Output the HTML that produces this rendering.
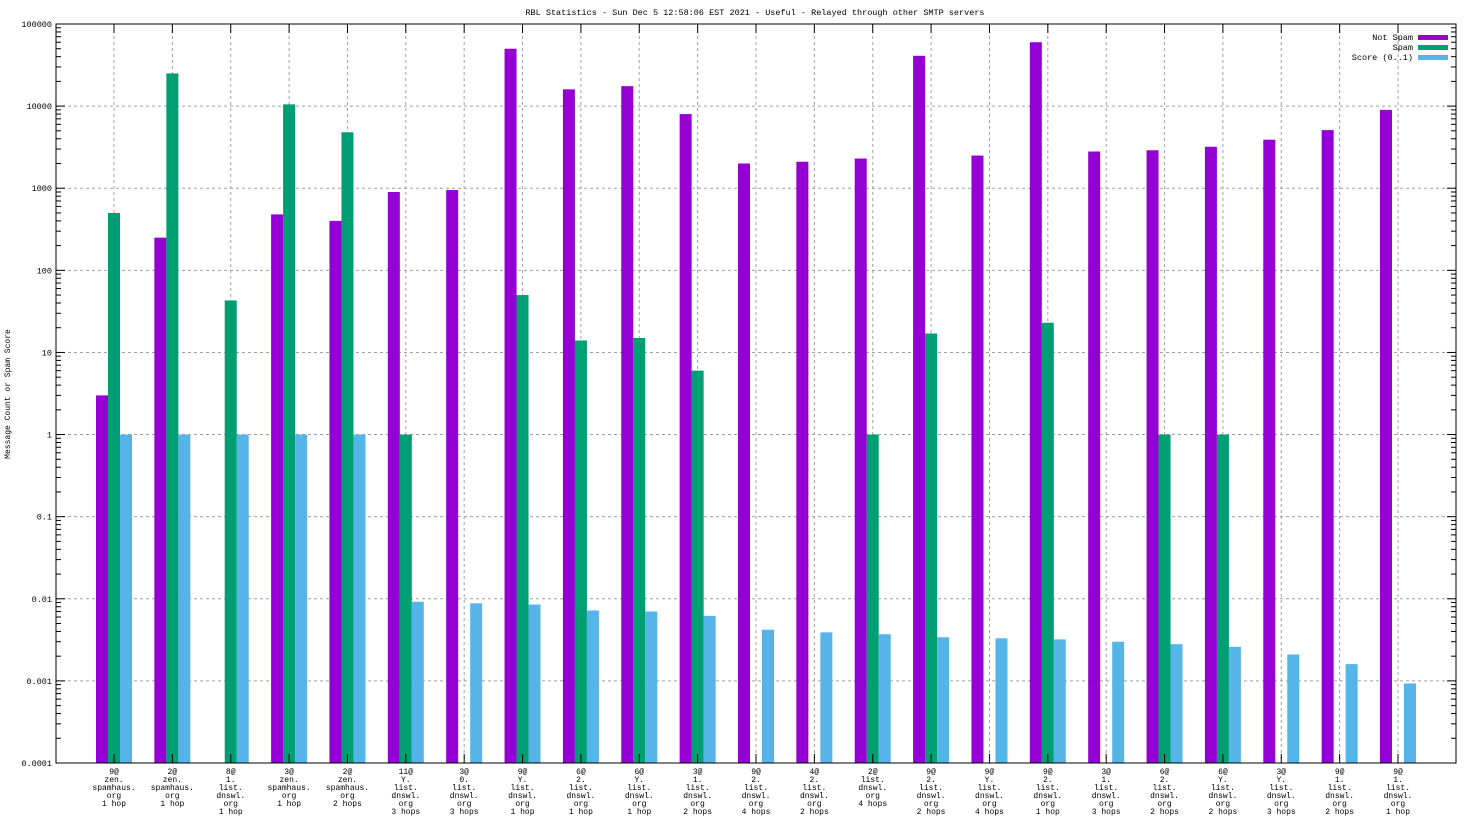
<!DOCTYPE html>
<html><head><meta charset="utf-8"><style>
body{margin:0;background:#fff;}
svg{display:block;font-family:"Liberation Mono","DejaVu Sans Mono",monospace;}
</style></head><body>
<svg id="chart" width="1472" height="828" viewBox="0 0 1472 828" xmlns="http://www.w3.org/2000/svg">
<rect width="1472" height="828" fill="#fff"/>
<text x="755" y="15" font-size="8.5" text-anchor="middle">RBL Statistics - Sun Dec  5 12:58:06 EST 2021 - Useful - Relayed through other SMTP servers</text>
<text transform="translate(10,394) rotate(-90)" font-size="8" text-anchor="middle">Message Count or Spam Score</text>
<g id="grid"></g><g id="bars"></g><g id="axes"></g>
<g font-size="8.5">
<text x="1413" y="40" text-anchor="end">Not Spam</text>
<rect x="1418" y="35" width="30" height="5" fill="#9400d3"/>
<text x="1413" y="50" text-anchor="end">Spam</text>
<rect x="1418" y="45" width="30" height="5" fill="#009e73"/>
<text x="1413" y="60" text-anchor="end">Score (0..1)</text>
<rect x="1418" y="55" width="30" height="5" fill="#56b4e9"/>
</g>
</svg>
<script>
const categories=[["9@","zen.","spamhaus.","org","1 hop"],["2@","zen.","spamhaus.","org","1 hop"],["8@","1.","list.","dnswl.","org","1 hop"],["3@","zen.","spamhaus.","org","1 hop"],["2@","zen.","spamhaus.","org","2 hops"],["11@","Y.","list.","dnswl.","org","3 hops"],["3@","0.","list.","dnswl.","org","3 hops"],["9@","Y.","list.","dnswl.","org","1 hop"],["6@","2.","list.","dnswl.","org","1 hop"],["6@","Y.","list.","dnswl.","org","1 hop"],["3@","1.","list.","dnswl.","org","2 hops"],["9@","2.","list.","dnswl.","org","4 hops"],["4@","2.","list.","dnswl.","org","2 hops"],["2@","list.","dnswl.","org","4 hops"],["9@","2.","list.","dnswl.","org","2 hops"],["9@","Y.","list.","dnswl.","org","4 hops"],["9@","2.","list.","dnswl.","org","1 hop"],["3@","1.","list.","dnswl.","org","3 hops"],["6@","2.","list.","dnswl.","org","2 hops"],["6@","Y.","list.","dnswl.","org","2 hops"],["3@","Y.","list.","dnswl.","org","3 hops"],["9@","1.","list.","dnswl.","org","2 hops"],["9@","1.","list.","dnswl.","org","1 hop"]];
const notSpam=[3,250,null,480,400,900,950,50000,16000,17500,8000,2000,2100,2300,41000,2500,60000,2800,2900,3200,3900,5100,9000];
const spam=[500,25000,43,10500,4800,1,null,50,14,15,6,null,null,1,17,null,23,null,1,1,null,null,null];
const score=[1,1,1,1,1,0.0092,0.0088,0.0085,0.0072,0.007,0.0062,0.0042,0.0039,0.0037,0.0034,0.0033,0.0032,0.003,0.0028,0.0026,0.0021,0.0016,0.00093];
const yTicks=["0.0001","0.001","0.01","0.1","1","10","100","1000","10000","100000"];
const L=56,R=1456,T=24,B=763,NS="http://www.w3.org/2000/svg";
const yMinExp=-4,yMaxExp=5;
function y(v){return B-(Math.log10(v)-yMinExp)/(yMaxExp-yMinExp)*(B-T);}
function xc(i){return 114+i*(1380-96)/22;}
function mk(tag,a,p){const e=document.createElementNS(NS,tag);for(const k in a)e.setAttribute(k,a[k]);p.appendChild(e);return e;}
const grid=document.getElementById('grid'),bars=document.getElementById('bars'),axes=document.getElementById('axes');
yTicks.forEach((t,k)=>{const yy=y(parseFloat(t));
 if(k>0&&k<yTicks.length-1){const g=mk('line',{x1:L,x2:R,y1:yy,y2:yy,stroke:'#a0a0a0','stroke-dasharray':'3,3'},grid);}
 const lb=mk('text',{x:L-4,y:yy+3,'font-size':8.5,'text-anchor':'end'},axes);lb.textContent=t;
 
 mk('line',{x1:L,x2:L+9,y1:yy,y2:yy,stroke:'#000'},axes);mk('line',{x1:R,x2:R-9,y1:yy,y2:yy,stroke:'#000'},axes);
 if(k<yTicks.length-1){for(let m=2;m<10;m++){const ym=y(parseFloat(t)*m);mk('line',{x1:L,x2:L+5,y1:ym,y2:ym,stroke:'#000'},axes);mk('line',{x1:R,x2:R-5,y1:ym,y2:ym,stroke:'#000'},axes);}}
});
categories.forEach((c,i)=>{const x=xc(i);
 const g=mk('line',{x1:x,x2:x,y1:T,y2:B,stroke:'#a0a0a0','stroke-dasharray':'3,3'},grid);
 
 mk('line',{x1:x,x2:x,y1:B,y2:B-9,stroke:'#000'},axes);mk('line',{x1:x,x2:x,y1:T,y2:T+9,stroke:'#000'},axes);
 const t=mk('text',{x:x,y:B+11,'font-size':8,'text-anchor':'middle'},axes);
 
 c.forEach((ln,j)=>{const ts=mk('tspan',{x:x,dy:j?8:0},t);ts.textContent=ln;});
 [[notSpam,'#9400d3',-18,'bar-not-spam'],[spam,'#009e73',-6,'bar-spam'],[score,'#56b4e9',6,'bar-score']].forEach(s=>{
  const v=s[0][i];if(v==null)return;const yy=y(v);
  const r=mk('rect',{x:x+s[2],y:yy,width:12,height:B-yy,fill:s[1]},bars);
  
 });
});
const f=mk('rect',{x:L,y:T,width:R-L,height:B-T,fill:'none',stroke:'#000'},axes);

</script>
</body></html>
